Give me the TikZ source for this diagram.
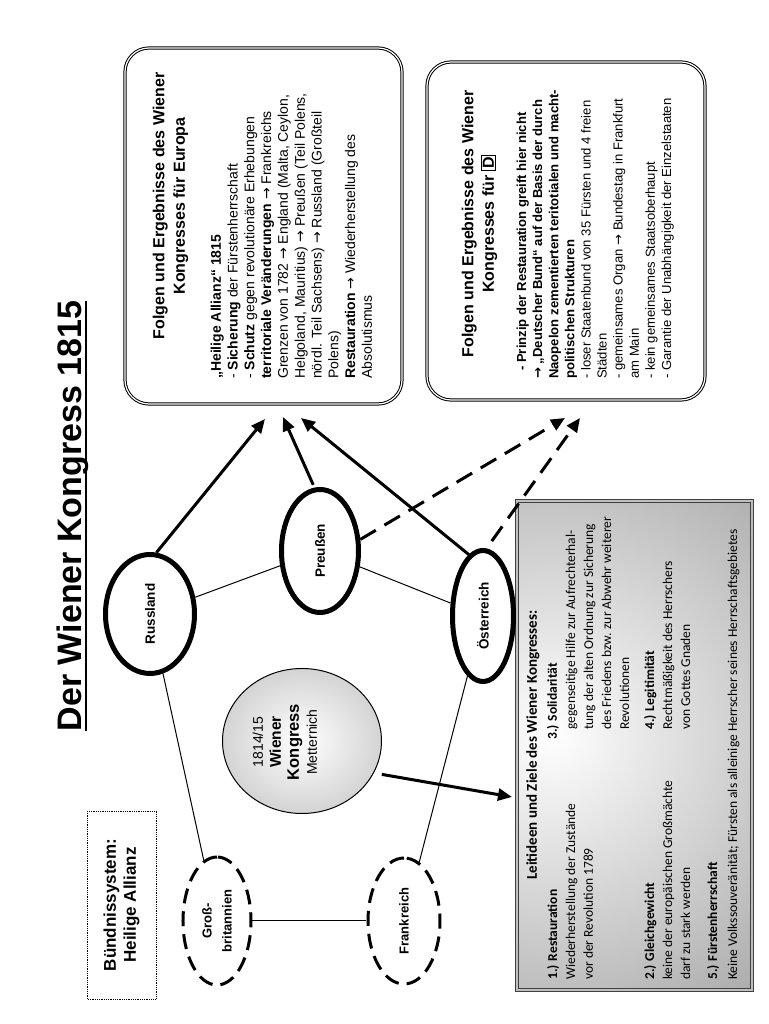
\documentclass[tikz,border=0pt]{standalone}
\usepackage{fontspec}
\setmainfont{Liberation Sans}
\newfontfamily\calibrifont{Carlito}
\newfontfamily\symfont{DejaVu Sans}
\newcommand{\ra}{{\symfont →}}
\newcommand{\rab}{{\symfont\bfseries →}}
\usetikzlibrary{shapes.geometric,arrows.meta,calc}
\begin{document}
\begin{tikzpicture}[x=1pt,y=1pt,rotate=90,transform shape,
  every node/.style={inner sep=0pt},
  power/.style={ellipse,draw,line width=5pt,font=\bfseries\fontsize{13.5}{16}\selectfont},
  guest/.style={ellipse,draw,line width=3pt,dash pattern=on 15pt off 8pt,align=center,font=\bfseries\fontsize{13}{20}\selectfont},
  link/.style={line width=1pt},
  arr/.style={line width=3pt,-{Triangle[length=14pt,width=12pt]}},
  darr/.style={arr,dash pattern=on 18pt off 10pt},
  resultbox/.style={draw,rectangle,rounded corners=24pt,line width=1pt,double=white,double distance=1.2pt},
  boxtitle/.style={anchor=base,align=center,font=\bfseries\fontsize{16}{20.5}\selectfont},
  leit/.style={anchor=base west,align=left,font=\calibrifont\fontsize{13.5}{18}\selectfont}
]
\useasboundingbox (0,0) rectangle (1024,768);
\fill[white] (0,0) rectangle (1024,768);

% title
\node[anchor=base,font=\bfseries\fontsize{34}{40}\selectfont] (title) at (508,686) {Der Wiener Kongress 1815};
\draw[line width=2.5pt] ($(title.base west)+(0,-4)$) -- ($(title.base east)+(0,-4)$);

% alliance box
\node[draw,densely dotted,line width=0.8pt,minimum width=188pt,minimum height=69pt,align=center,font=\bfseries\fontsize{17}{20}\selectfont] (bund) at (119,646.5) {Bündnissystem:\\Heilige Allianz};

% result boxes
\node[resultbox,minimum width=356pt,minimum height=277pt] (europa) at (798,504.5) {};
\node[resultbox,minimum width=338pt,minimum height=278pt] (dbox) at (793,202) {};

% (multi-line nodes: base anchor = baseline of last line)
\node[boxtitle] (eurt) at (818,583) {Folgen und Ergebnisse des Wiener\\Kongresses für Europa};
\node[anchor=base west,align=left,font=\fontsize{14}{16.8}\selectfont] (eurb) at (645,396) {\textbf{„Heilige Allianz“ 1815}\\
- \textbf{Sicherung} der Fürstenherrschaft\\
- \textbf{Schutz} gegen revolutionäre Erhebungen\\
\textbf{territoriale Veränderungen} \ra{} Frankreichs\\
Grenzen von 1782 \ra{} England (Malta, Ceylon,\\
Helgoland, Mauritius) \ra{} Preußen (Teil Polens,\\
nördl. Teil Sachsens) \ra{} Russland (Großteil\\
Polens)\\
\textbf{Restauration} \ra{} Wiederherstellung des\\
Absolutismus};

\node[boxtitle] (det) at (800,274) {Folgen und Ergebnisse des Wiener\\Kongresses für \setlength{\fboxsep}{1pt}\setlength{\fboxrule}{1.2pt}\fbox{D}};
\node[anchor=base west,align=left,font=\fontsize{13.1}{16.1}\selectfont] (deb) at (645,97) {\hspace*{8pt}\textbf{- Prinzip der Restauration greift hier nicht}\\
\rab{} \textbf{„Deutscher Bund“ auf der Basis der durch}\\
\textbf{Naopelon zementierten teritotialen und macht-}\\
\textbf{politischen Strukturen}\\
- loser Staatenbund von 35 Fürsten und 4 freien\\
Städten\\
- gemeinsames Organ \ra{} Bundestag in Frankfurt\\
am Main\\
- kein gemeinsames Staatsoberhaupt\\
- Garantie der Unabhängigkeit der Einzelstaaten};

% aims box
\begin{scope}
\clip (34,16) rectangle (523,251);
\shade[inner color=white,outer color=black!38] (290,215) circle (380);
\end{scope}
\node[draw=black!75,line width=0.8pt,double=black!25,double distance=1.5pt,minimum width=489pt,minimum height=235pt] (ziele) at (278.5,133.5) {};
\node[anchor=base,font=\calibrifont\bfseries\fontsize{15}{18}\selectfont] (zt) at (279,231) {Leitideen und Ziele des Wiener Kongresses:};
\node[leit] (z1) at (44,175) {\textbf{1.) Restauration}\\Wiederherstellung der Zustände\\vor der Revolution 1789};
\node[leit] (z2) at (44,78) {\textbf{2.) Gleichgewicht}\\keine der europäischen Großmächte\\darf zu stark werden};
\node[leit] (z5) at (44,31) {\textbf{5.) Fürstenherrschaft}\\[2pt]Keine Volkssouveränität; Fürsten als alleinige Herrscher seines Herrschaftsgebietes};
\node[leit] (z3h) at (284,211) {\textbf{3.) Solidarität}};
\node[leit] (z3) at (294,139) {gegenseitige Hilfe zur Aufrechterhal-\\tung der alten Ordnung zur Sicherung\\des Friedens bzw. zur Abwehr weiterer\\Revolutionen};
\node[leit] (z4) at (294,78) {\textbf{4.) Legitimität}\\Rechtmäßigkeit des Herrschers\\von Gottes Gnaden};

% congress circle
\node[ellipse,draw,line width=1pt,shade,shading=radial,inner color=white,outer color=black!17,minimum width=145pt,minimum height=159pt] (wk) at (283,466) {};
\node[anchor=base,align=center,font=\fontsize{14}{18}\selectfont] (wktext) at (282,451) {1814/15\\{\bfseries\fontsize{15.5}{18}\selectfont Wiener}\\{\bfseries\fontsize{16.5}{18}\selectfont Kongress}\\Metternich};

% powers
\node[power,minimum width=119pt,minimum height=89pt] (russ) at (410,618) {Russland};
\node[power,minimum width=123pt,minimum height=77pt] (preu) at (473,448) {Preußen};
\node[power,minimum width=131pt,minimum height=61pt] (oest) at (408,285) {Österreich};
\node[guest,minimum width=128pt,minimum height=68pt] (gb) at (103,551) {Groß-\\britannien};
\node[guest,minimum width=126pt,minimum height=72pt] (fr) at (103,364) {Frankreich};

% links
\draw[link] (russ) -- (gb);
\draw[link] (russ) -- (preu);
\draw[link] (preu) -- (oest);
\draw[link] (oest) -- (fr);
\draw[link] (gb) -- (fr);

% arrow ends
\coordinate (t1) at (605,503);
\coordinate (t2) at (607,485);
\coordinate (t3) at (606,467);
\coordinate (t4) at (606,203);
\coordinate (t5) at (606,188);
\coordinate (t6) at (227,256);

\draw[arr] (russ.-6) -- (t1);
\draw[arr,shorten <=3pt] (preu.5) -- (t2);
\draw[arr] (oest.13) -- (t3);
\draw[darr] (preu.-74) -- (t4);
\draw[darr,shorten <=9pt] (oest.-3) -- (t5);
\draw[arr,shorten <=8pt] (wk.-114) -- (t6);
\end{tikzpicture}
\end{document}
